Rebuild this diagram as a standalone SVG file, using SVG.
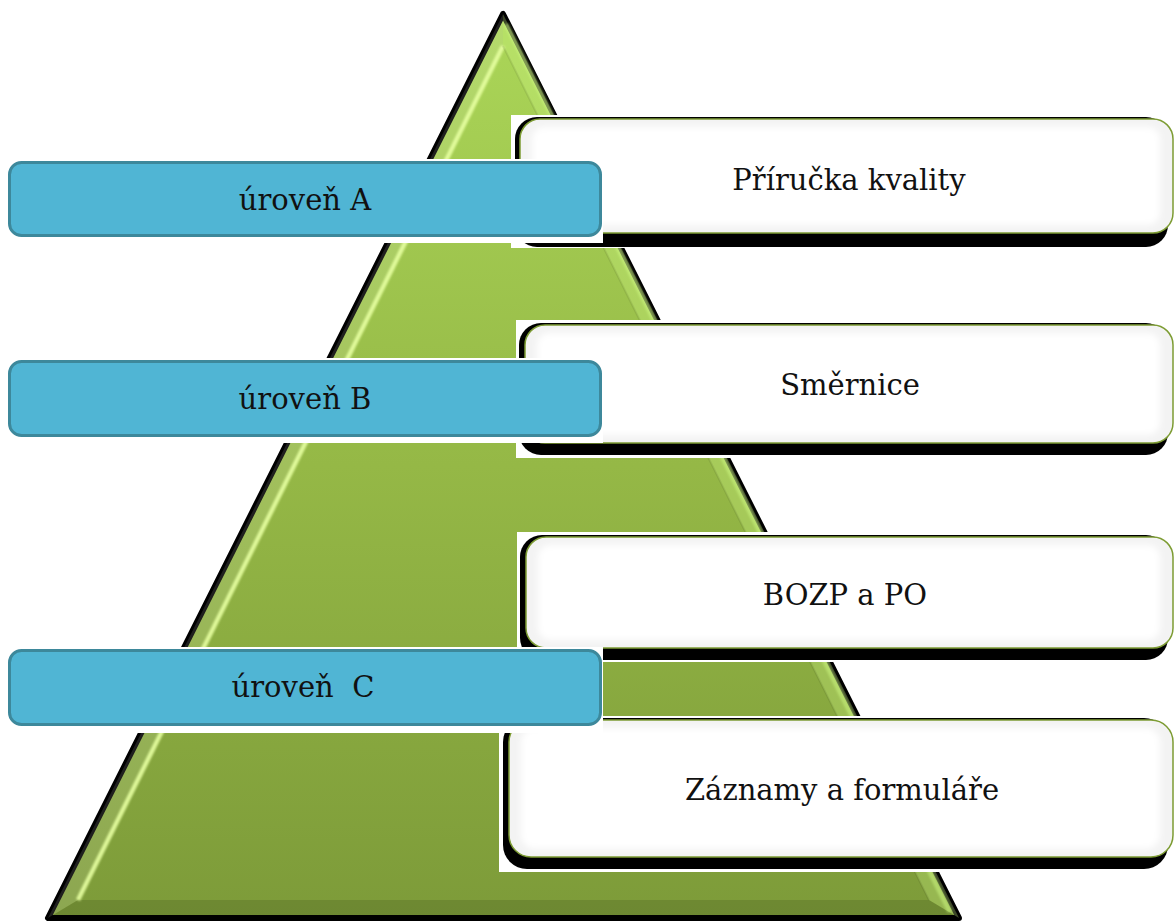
<svg xmlns="http://www.w3.org/2000/svg" width="1174" height="923" viewBox="0 0 1174 923">
  <style>
    .lbl { font-family: "DejaVu Serif", "Liberation Serif", serif; font-size: 29px; fill: #111; text-anchor: middle; }
    .shadow { fill: #000; }
    .card { fill: #f3f3f3; stroke: #7d9c33; stroke-width: 1.5; }
    .card-face { fill: #fff; filter: url(#soft); }
    .tag { fill: #50b5d4; stroke: #3d889b; stroke-width: 3; }
    .pad { fill: #fff; }
  </style>
  <defs>
    <linearGradient id="pyrFill" gradientUnits="userSpaceOnUse" x1="0" y1="14" x2="0" y2="918">
      <stop offset="0" stop-color="#abd658"/>
      <stop offset="0.5" stop-color="#95b846"/>
      <stop offset="1" stop-color="#7d9b39"/>
    </linearGradient>
    <filter id="soft" x="-5%" y="-10%" width="110%" height="120%">
      <feGaussianBlur stdDeviation="3"/>
    </filter>
    <filter id="glow" x="-5%" y="-5%" width="110%" height="110%">
      <feGaussianBlur stdDeviation="1.2"/>
    </filter>
  </defs>

  <rect width="1174" height="923" fill="#fff"/>

  <!-- bevelled pyramid -->
  <g id="pyramid">
    <polygon points="503,14 48,918 959,918" fill="url(#pyrFill)" stroke="#000" stroke-width="6" stroke-linejoin="round"/>
    <polygon points="503,14 48,918 78,900 503,46" fill="#fff" opacity="0.12"/>
    <polygon points="503,14 959,918 929,900 503,46" fill="#d8ff90" opacity="0.28"/>
    <polygon points="48,918 959,918 929,900 78,900" fill="#000" opacity="0.12"/>
    <line x1="503" y1="46" x2="78" y2="900" stroke="#e6ffa0" stroke-width="4.5" opacity="0.9" filter="url(#glow)"/>
    <line x1="503" y1="46" x2="929" y2="900" stroke="#000" stroke-width="2" opacity="0.08"/>
    <line x1="506" y1="24" x2="950" y2="912" stroke="#d4ff88" stroke-width="5" opacity="0.45" filter="url(#glow)"/>
  </g>

  <!-- document cards -->
  <g id="card-manual">
    <rect class="pad" x="511" y="115" width="663" height="133"/>
    <rect class="shadow" x="515" y="117" width="653" height="130" rx="22"/>
    <rect class="card" x="520" y="119" width="653" height="114" rx="20"/>
    <rect class="card-face" x="532" y="127" width="628" height="98" rx="12"/>
    <text class="lbl" x="849" y="190">Příručka kvality</text>
  </g>

  <g id="card-directives">
    <rect class="pad" x="516" y="320" width="658" height="138"/>
    <rect class="shadow" x="519" y="323" width="649" height="132" rx="22"/>
    <rect class="card" x="525" y="325" width="648" height="118" rx="20"/>
    <rect class="card-face" x="537" y="333" width="623" height="102" rx="12"/>
    <text class="lbl" x="850" y="395">Směrnice</text>
  </g>

  <g id="card-safety">
    <rect class="pad" x="517" y="532" width="657" height="130"/>
    <rect class="shadow" x="520" y="535" width="648" height="125" rx="22"/>
    <rect class="card" x="526" y="537" width="647" height="111" rx="20"/>
    <rect class="card-face" x="538" y="545" width="622" height="95" rx="12"/>
    <text class="lbl" x="845" y="605">BOZP a PO</text>
  </g>

  <g id="card-records">
    <rect class="pad" x="499" y="716" width="675" height="156"/>
    <rect class="shadow" x="503" y="718" width="665" height="151" rx="24"/>
    <rect class="card" x="509" y="720" width="664" height="137" rx="22"/>
    <rect class="card-face" x="521" y="728" width="639" height="121" rx="14"/>
    <text class="lbl" x="842" y="800">Záznamy a formuláře</text>
  </g>

  <!-- level tags -->
  <g id="level-a">
    <rect class="pad" x="0" y="159" width="603" height="84"/>
    <rect class="tag" x="9.5" y="162.5" width="591" height="73" rx="12"/>
    <text class="lbl" x="305" y="210">úroveň A</text>
  </g>

  <g id="level-b">
    <rect class="pad" x="0" y="358" width="603" height="85"/>
    <rect class="tag" x="9.5" y="361.5" width="591" height="74" rx="12"/>
    <text class="lbl" x="305" y="409">úroveň B</text>
  </g>

  <g id="level-c">
    <rect class="pad" x="0" y="647" width="603" height="86"/>
    <rect class="tag" x="9.5" y="650.5" width="591" height="74" rx="12"/>
    <text class="lbl" x="303" y="697" xml:space="preserve">úroveň  C</text>
  </g>

  <g id="connectors"/>
</svg>
